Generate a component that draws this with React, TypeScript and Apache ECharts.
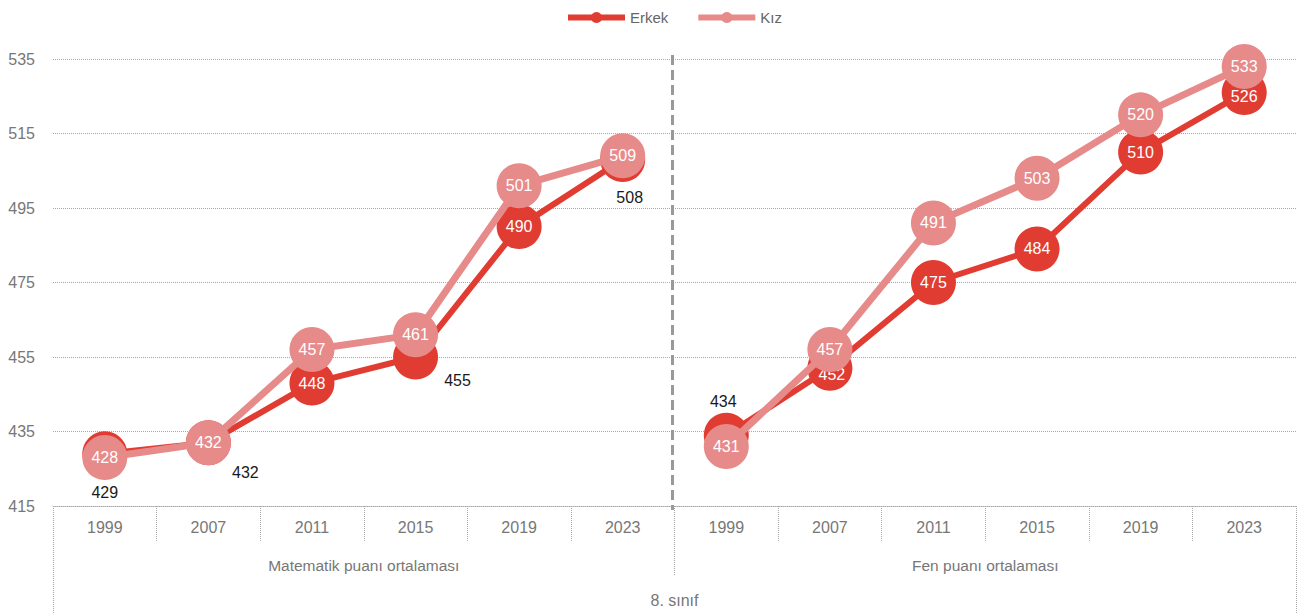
import React, { useEffect, useRef } from "react";
import * as echarts from "echarts";

const years = ["1999", "2007", "2011", "2015", "2019", "2023"];
const groups = ["Matematik puanı ortalaması", "Fen puanı ortalaması"];
const topGroup = ["8. sınıf"];
const erkekMath = [429, 432, 448, 455, 490, 508];
const erkekFen = [434, 452, 475, 484, 510, 526];
const kizMath = [428, 432, 457, 461, 501, 509];
const kizFen = [431, 457, 491, 503, 520, 533];
const yTicks = [415, 435, 455, 475, 495, 515, 535];

const FONT = "'Liberation Sans Narrow', 'Arial Narrow', 'Liberation Sans', Arial, sans-serif";
const FS = 15.5;
const RED = "#e03c32";
const PINK = "#e68a8a";

// label offsets for Erkek points whose label sits outside the marker (by index in 12-slot axis)
const erkekOutside: Record<number, number[]> = {
  0: [0, 39],
  1: [37, 30],
  3: [42, 23],
  5: [7, 38],
  6: [-3, -34],
};
const erkekInsideOffset: Record<number, number[]> = {
  7: [2, 6],
  11: [0, 4],
};

export default function App() {
  const ref = useRef<HTMLDivElement>(null);
  useEffect(() => {
    if (!ref.current) return;
    const chart = echarts.init(ref.current, undefined, { renderer: "svg" });
    const cats = [...years, ...years];
    const pad = ["-", "-", "-", "-", "-", "-"];

    const erkekData = (vals: (number | string)[]) =>
      vals.map((v, idx) => {
        if (v === "-") return v;
        const out = erkekOutside[idx];
        if (out) {
          return {
            value: v,
            label: { color: "#1a1a1a", position: "inside", offset: out },
          };
        }
        const off = erkekInsideOffset[idx];
        return off ? { value: v, label: { offset: off } } : v;
      });

    const eM = erkekData([...erkekMath, ...pad]);
    const eF = erkekData([...pad, ...erkekFen]);
    const kM = [...kizMath, ...pad];
    const kF = [...pad, ...kizFen];

    const baseLabel = {
      show: true,
      position: "inside",
      color: "#ffffff",
      fontSize: FS + 0.5,
      fontFamily: FONT,
    };

    const mkSeries = (name: string, data: any[], color: string, width: number, z: number) => ({
      name,
      type: "line",
      data,
      symbol: "circle",
      symbolSize: 45,
      z,
      lineStyle: { color, width },
      itemStyle: { color },
      label: baseLabel,
      emphasis: { disabled: true },
    });

    const dotted = { color: "#a8a8a8", type: "dotted", width: 1 };

    chart.setOption({
      animation: false,
      textStyle: { fontFamily: FONT },
      legend: {
        top: 10,
        left: 565,
        padding: 0,
        itemWidth: 57,
        itemHeight: 14,
        itemGap: 27,
        data: ["Erkek", "Kız"],
        lineStyle: { width: 6 },
        textStyle: { color: "#666", fontSize: 15, fontFamily: FONT },
      },
      grid: { left: 53, right: 4, top: 59, bottom: 107, containLabel: false },
      xAxis: [
        {
          type: "category",
          data: cats,
          position: "bottom",
          axisLine: { show: true, lineStyle: dotted },
          axisTick: { show: true, interval: 0, length: 35, lineStyle: dotted },
          axisLabel: { interval: 0, margin: 13, color: "#777", fontSize: FS + 0.5, fontFamily: FONT },
          splitLine: { show: false },
        },
        {
          type: "category",
          data: groups,
          position: "bottom",
          axisLine: { show: false },
          axisTick: { show: true, interval: 0, length: 70, lineStyle: dotted },
          axisLabel: { interval: 0, margin: 51, color: "#777", fontSize: FS, fontFamily: FONT },
          splitLine: { show: false },
        },
        {
          type: "category",
          data: topGroup,
          position: "bottom",
          axisLine: { show: false },
          axisTick: { show: true, interval: 0, length: 110, lineStyle: dotted },
          axisLabel: { interval: 0, margin: 86, color: "#777", fontSize: FS + 0.5, fontFamily: FONT },
          splitLine: { show: false },
        },
      ],
      yAxis: {
        type: "value",
        min: 415,
        max: 535,
        axisLine: { show: false },
        axisTick: { show: false, customValues: yTicks },
        axisLabel: { customValues: yTicks, margin: 18, color: "#777", fontSize: FS + 0.5, fontFamily: FONT },
        splitLine: { show: true, lineStyle: dotted },
      },
      series: [
        mkSeries("Erkek", eM, RED, 6, 2),
        mkSeries("Erkek", eF, RED, 6, 2),
        mkSeries("Kız", kM, PINK, 7, 3),
        mkSeries("Kız", kF, PINK, 7, 3),
      ],
    });

    const p5 = chart.convertToPixel({ xAxisIndex: 0 }, 5) as number;
    const p6 = chart.convertToPixel({ xAxisIndex: 0 }, 6) as number;
    const xm = Math.round((p5 + p6) / 2) - 1.5;
    const yTop = (chart.convertToPixel({ yAxisIndex: 0 }, 535) as number) - 4;
    const yBot = (chart.convertToPixel({ yAxisIndex: 0 }, 415) as number) + 4;
    chart.setOption({
      graphic: [
        {
          type: "line",
          shape: { x1: xm, y1: yTop, x2: xm, y2: yBot },
          style: { stroke: "#999", lineWidth: 3, lineDash: [10, 5] },
          z: 1,
        },
      ],
    });

    return () => chart.dispose();
  }, []);

  return (
    <div
      ref={ref}
      style={{ position: "fixed", left: 0, top: 0, width: 1300, height: 613, background: "#fff" }}
    />
  );
}
